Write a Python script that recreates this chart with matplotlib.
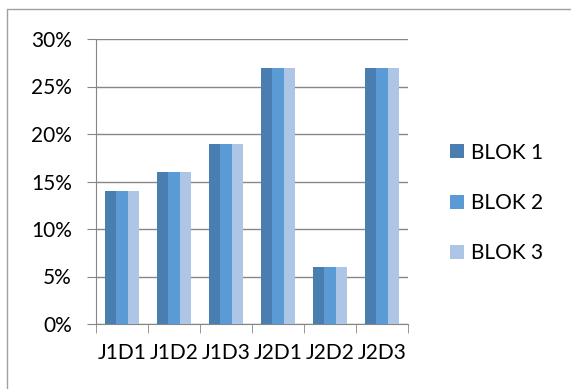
import numpy as np
import matplotlib
matplotlib.use("Agg")
import matplotlib.pyplot as plt
from matplotlib.lines import Line2D
from matplotlib.ticker import PercentFormatter

categories = ["J1D1", "J1D2", "J1D3", "J2D1", "J2D2", "J2D3"]
blok1 = [14, 16, 19, 27, 6, 27]
blok2 = [14, 16, 19, 27, 6, 27]
blok3 = [14, 16, 19, 27, 6, 27]
series_names = ["BLOK 1", "BLOK 2", "BLOK 3"]
colors = ["#4A7EB0", "#5B9BD5", "#AEC6E6"]

plt.rcParams['font.family'] = ['Lato', 'DejaVu Sans']
fs = 15

fig = plt.figure(figsize=(5.71, 3.89), dpi=100)
ax = fig.add_axes([96 / 571, 1 - 324 / 389, 312 / 571, 285 / 389])

x = np.arange(len(categories))
w = 0.224
for i, (vals, name, c) in enumerate(zip([blok1, blok2, blok3], series_names, colors)):
    ax.bar(x + (i - 1) * w, vals, width=w, color=c, label=name, zorder=3)

ax.set_xlim(-0.5, len(categories) - 0.5)
ax.set_ylim(0, 30)
ax.set_yticks(range(0, 31, 5))
ax.yaxis.set_major_formatter(PercentFormatter(decimals=0))
ax.set_xticks(x)
ax.set_xticklabels(categories)
ax.set_xticks(np.arange(-0.5, len(categories), 1), minor=True)
ax.tick_params(axis='x', which='major', length=0, pad=14, labelsize=fs)
ax.tick_params(axis='x', which='minor', length=6.5, color='#868686', direction='out')
ax.tick_params(axis='y', length=6.5, color='#868686', labelsize=fs, pad=11)

ax.grid(axis='y', color='#868686', linewidth=1, zorder=0)
for s in ['top', 'right']:
    ax.spines[s].set_visible(False)
for s in ['left', 'bottom']:
    ax.spines[s].set_color('#868686')

ax.legend(loc='center left', bbox_to_anchor=(1.135, 0.425), frameon=False,
          fontsize=fs, labelspacing=1.45, handlelength=0.65, handleheight=0.65,
          handletextpad=0.35, borderpad=0, borderaxespad=0)

# outer chart border (top and left visible)
fig.add_artist(Line2D([7 / 571, 7 / 571, 1], [0, 1 - 9 / 389, 1 - 9 / 389],
                      transform=fig.transFigure, color='#A0A0A0', linewidth=1))

fig.savefig("out.png", dpi=100)
